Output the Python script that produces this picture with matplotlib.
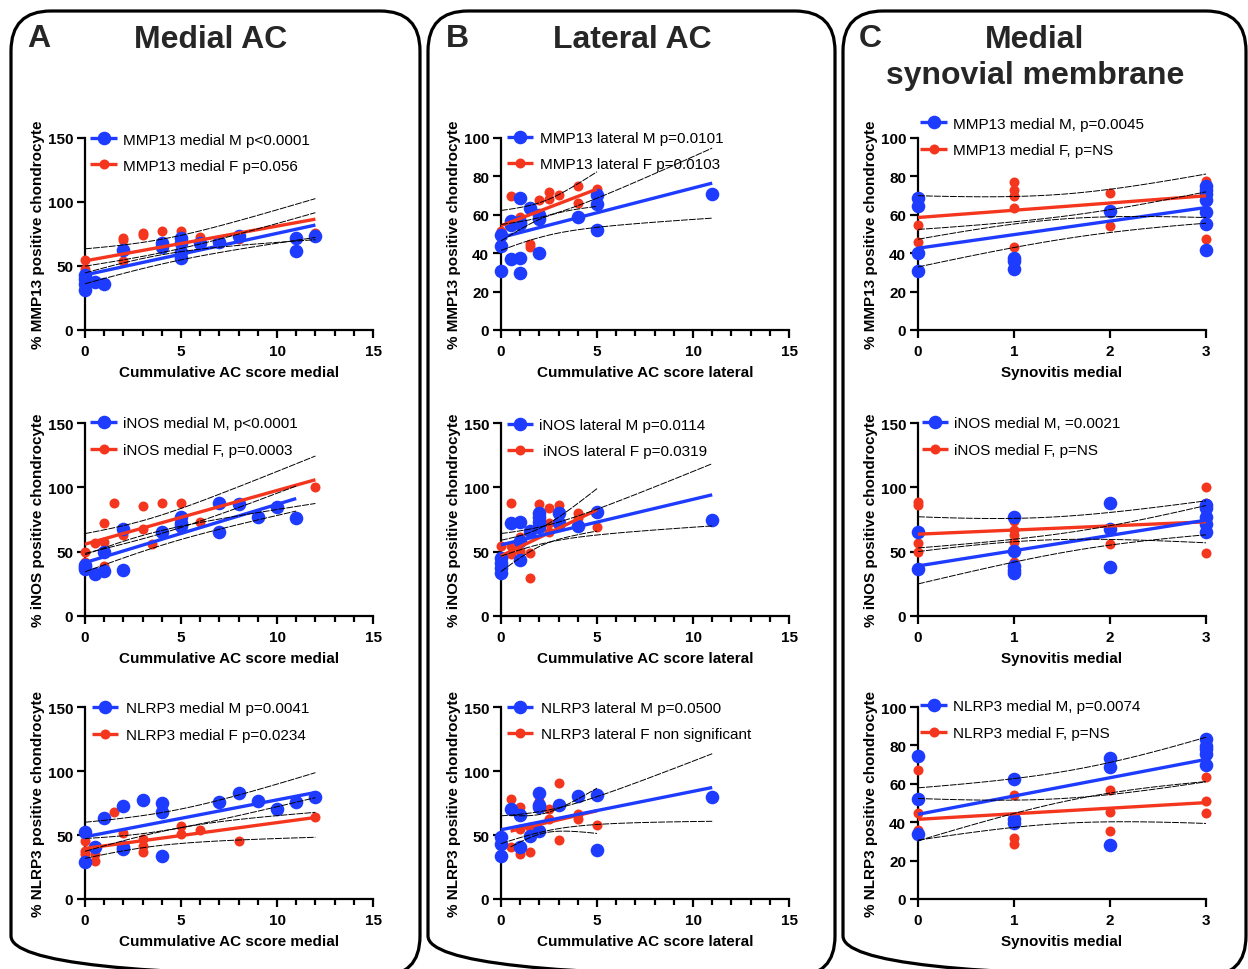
import numpy as np
import matplotlib
matplotlib.use("Agg")
import matplotlib.pyplot as plt
from matplotlib.patches import FancyBboxPatch

plt.rcParams['font.family'] = ['Liberation Sans', 'DejaVu Sans']

# ---------------- DATA ----------------
# A1: MMP13, cumulative AC score medial
a1_m_x = [0, 0, 0, 0, 0.5, 1, 2, 4, 4, 5, 5, 5, 5, 6, 7, 8, 11, 11, 12]
a1_m_y = [43, 40, 36, 31, 37.6, 35.7, 62.3, 68, 65, 72, 68, 61, 56, 68.3, 69, 73.6, 71.5, 61.8, 73.6]
a1_f_x = [0, 0, 2, 2, 2, 3, 3, 4, 5, 6, 8, 12]
a1_f_y = [55, 48, 72, 70, 54, 76, 74, 77, 77.5, 73, 71, 76]
a1_m_fit = [43, 82]
a1_f_fit = [54, 86.6]
a1_m_ci = [7, 9.5]
a1_f_ci = [10, 15]

# A2: iNOS, cumulative AC score medial
a2_m_x = [0, 0, 0, 0.5, 1, 1, 2, 2, 4, 5, 5, 5, 7, 7, 8, 9, 10, 11]
a2_m_y = [40, 38, 36.5, 33, 50, 35, 68, 35.8, 65, 77, 72, 70, 88.2, 65, 87, 76.6, 85.1, 75.8]
a2_f_x = [0, 0, 0.5, 1, 1, 1, 1.5, 2, 3, 3, 3.5, 4, 5, 5, 6, 12]
a2_f_y = [49.8, 42, 57, 71.9, 57.6, 38.9, 88.2, 62.8, 85.6, 67.5, 55.8, 88.2, 87.7, 68, 73.4, 99.9]
a2_m_fit = [41.5, 91.3]
a2_f_fit = [55.8, 105.9]
a2_m_ci = [7, 10]
a2_f_ci = [8, 19]

# A3: NLRP3, cumulative AC score medial
a3_m_x = [0, 0, 0.5, 1, 2, 2, 2, 3, 4, 4, 4, 7, 8, 9, 10, 11, 12]
a3_m_y = [52.5, 28.6, 40.3, 62.9, 72.8, 41, 39, 77.5, 75.1, 68.1, 33.8, 75.4, 83.2, 76.7, 70.2, 75.4, 79.3]
a3_f_x = [0, 0, 0, 0.5, 0.5, 1.5, 2, 3, 3, 3, 5, 5, 6, 8, 12]
a3_f_y = [45.5, 37.7, 35, 35.1, 29.9, 67.6, 51.5, 46.8, 41.6, 36.4, 57.2, 50.7, 53.8, 45.5, 63.7]
a3_m_fit = [48.6, 83.2]
a3_f_fit = [39.5, 63.7]
a3_m_ci = [11, 16]
a3_f_ci = [7.5, 16]

# B1: MMP13, cumulative AC score lateral
b1_m_x = [0, 0, 0, 0.5, 0.5, 0.5, 1, 1, 1, 1, 1, 1.5, 2, 2, 2, 4, 5, 5, 5, 11]
b1_m_y = [49.4, 43.8, 30.8, 56.9, 54.6, 36.9, 68.7, 56, 55, 37.4, 29.9, 63.6, 59.8, 57.7, 40, 59.1, 70.3, 65.6, 52, 70.8]
b1_f_x = [0, 0.5, 1, 1.5, 1.5, 2, 2.5, 2.5, 3, 4, 4, 5]
b1_f_y = [51.6, 69.6, 58.6, 45, 43, 67.8, 72, 68.2, 70.3, 74.8, 66.4, 73.4]
b1_m_fit = [48.2, 76.5]
b1_f_fit = [54.3, 73.4]
b1_m_ci = [7, 17.6]
b1_f_ci = [7, 10]

# B2: iNOS, cumulative AC score lateral
b2_m_x = [0, 0, 0, 0, 0.5, 1, 1, 1, 1.5, 2, 2, 2, 2, 3, 3, 4, 5, 11]
b2_m_y = [45.4, 41, 37.6, 33.7, 71.9, 73.2, 58.4, 43.3, 66.2, 80.4, 76.6, 72.7, 68.8, 79.9, 72.1, 70.1, 81, 74.7]
b2_f_x = [0, 0.5, 0.5, 0.5, 1, 1, 1.5, 1.5, 2, 2.5, 2.5, 2.5, 3, 4, 4, 5]
b2_f_y = [54.5, 87.7, 54.5, 48, 61.5, 50.6, 49.3, 29.8, 86.9, 84.3, 72.1, 64.9, 86.2, 80.4, 75.8, 68.8]
b2_m_fit = [55.3, 94.2]
b2_f_fit = [46.7, 82.5]
b2_m_ci = [8.5, 25]
b2_f_ci = [10, 19]

# B3: NLRP3, cumulative AC score lateral
b3_m_x = [0, 0, 0, 0.5, 1, 1, 1.5, 2, 2, 2, 2, 3, 4, 5, 5, 11]
b3_m_y = [48.6, 42.9, 33.8, 70.2, 65.8, 40.3, 49.4, 83.2, 73.6, 71.5, 53.3, 73.6, 80.1, 81.4, 38.5, 79.8]
b3_f_x = [0.5, 0.5, 1, 1, 1, 1.5, 1.5, 2, 2.5, 2.5, 3, 3, 4, 4, 5]
b3_f_y = [78, 40.3, 72, 54.6, 35.1, 55.9, 36.4, 76.2, 70.2, 62.4, 91, 46, 66.3, 62.4, 57.7]
b3_m_fit = [54.1, 87.1]
b3_f_fit = [53, 68.9]
b3_m_ci = [10.5, 27.3]
b3_f_ci = [10, 20.5]

# C1: MMP13, synovitis medial
c1_m_x = [0, 0, 0, 0, 1, 1, 1, 2, 3, 3, 3, 3, 3, 3, 3]
c1_m_y = [68.5, 64.7, 40, 30.8, 37.7, 36, 32, 62.1, 74.8, 73, 70.8, 67.8, 61.6, 55.1, 41.6]
c1_f_x = [0, 0, 1, 1, 1, 1, 1, 2, 2, 3, 3, 3]
c1_f_y = [54.6, 45.9, 76.9, 73, 69.9, 63.3, 43.3, 71.6, 54.3, 77.7, 76.3, 47.6]
c1_m_fit = [42.6, 63.8]
c1_f_fit = [58.6, 69.9]
c1_m_ci = [11, 7]
c1_f_ci = [12.2, 10.4]

# C2: iNOS, synovitis medial
c2_m_x = [0, 0, 1, 1, 1, 1, 1, 2, 2, 2, 3, 3, 3, 3, 3]
c2_m_y = [64.9, 36.3, 77.3, 50.6, 38.9, 35.8, 33.2, 88.2, 68, 38.4, 86.2, 84.3, 77.1, 71.4, 64.9]
c2_f_x = [0, 0, 0, 0, 1, 1, 1, 1, 1, 2, 2, 3, 3, 3]
c2_f_y = [88.7, 86.2, 56.6, 49.8, 74, 66.7, 62.8, 57.6, 42.3, 55.8, 37.6, 99.9, 88.2, 49.3]
c2_m_fit = [38.9, 74.5]
c2_f_fit = [63.6, 73.2]
c2_m_ci = [15.5, 10]
c2_f_ci = [13.8, 16]

# C3: NLRP3, synovitis medial
c3_m_x = [0, 0, 0, 1, 1, 1, 2, 2, 2, 3, 3, 3, 3, 3]
c3_m_y = [74.7, 51.9, 33.7, 62.3, 41.5, 39.8, 73.2, 68.7, 28.2, 83.4, 79.6, 77.9, 75.6, 69.7]
c3_f_x = [0, 0, 0, 1, 1, 1, 2, 2, 2, 3, 3, 3]
c3_f_y = [67, 45, 35.8, 54, 32, 28.9, 56.6, 45.3, 35.5, 63.5, 51, 45]
c3_m_fit = [44.1, 72.7]
c3_f_fit = [41.5, 50.2]
c3_m_ci = [14.3, 11.1]
c3_f_ci = [10.8, 10.9]

# legend labels
a1_labels = ["MMP13 medial M p<0.0001", "MMP13 medial F p=0.056"]
a2_labels = ["iNOS medial M, p<0.0001", "iNOS medial F, p=0.0003"]
a3_labels = ["NLRP3 medial M p=0.0041", "NLRP3 medial F p=0.0234"]
b1_labels = ["MMP13 lateral M p=0.0101", "MMP13 lateral F p=0.0103"]
b2_labels = ["iNOS lateral M p=0.0114", " iNOS lateral F p=0.0319"]
b3_labels = ["NLRP3 lateral M p=0.0500", "NLRP3 lateral F non significant"]
c1_labels = ["MMP13 medial M, p=0.0045", "MMP13 medial F, p=NS"]
c2_labels = ["iNOS medial M, =0.0021", "iNOS medial F, p=NS"]
c3_labels = ["NLRP3 medial M, p=0.0074", "NLRP3 medial F, p=NS"]

ylabel_mmp = "% MMP13 positive chondrocyte"
ylabel_inos = "% iNOS positive chondrocyte"
ylabel_nlrp = "% NLRP3 positive chondrocyte"
xlabel_med = "Cummulative AC score medial"
xlabel_lat = "Cummulative AC score lateral"
xlabel_syn = "Synovitis medial"

# ---------------- STYLE ----------------
BLUE = '#1E3CFF'
RED = '#F5361E'
TXT = '#262626'
MS_M = 9.8
MS_F = 7.2
W, H = 1248, 970

fig = plt.figure(figsize=(W / 100, H / 100), dpi=100)
bg = fig.add_axes([0, 0, 1, 1], zorder=-5)
bg.set_xlim(0, W)
bg.set_ylim(H, 0)
bg.axis('off')

# panel boxes
for (x0, x1) in [(11, 420), (428, 835), (843, 1246)]:
    bg.add_patch(FancyBboxPatch((x0, 12), x1 - x0, 965, boxstyle="round,pad=0,rounding_size=40",
                                fill=False, lw=2.3, ec='black'))

# panel letters and titles
for x, s in [(27, 'A'), (446, 'B'), (859, 'C')]:
    bg.text(x, 47, s, fontsize=23, fontweight='bold', color=TXT, ha='left', va='baseline')
bg.text(211, 48, "Medial AC", fontsize=23, fontweight='bold', color=TXT, ha='center', va='baseline')
bg.text(632, 48, "Lateral AC", fontsize=23, fontweight='bold', color=TXT, ha='center', va='baseline')
bg.text(1035, 48, "Medial", fontsize=23, fontweight='bold', color=TXT, ha='center', va='baseline')
bg.text(1035, 84, "synovial membrane", fontsize=23, fontweight='bold', color=TXT, ha='center', va='baseline')


def band_half(xs, xd, xmin, xmax, ci):
    xd = np.asarray(xd, float)
    xc = xd.mean()
    v = xd.var()
    k2 = 0.5 * (ci[0] ** 2 / (v + (xmin - xc) ** 2) + ci[1] ** 2 / (v + (xmax - xc) ** 2))
    return np.sqrt(k2 * (v + (xs - xc) ** 2))


def panel(rect, xlim, xmajor, xminor, ylim, ymajor, xlabel, ylabel,
          mx, my, fx, fy, mfit, ffit, mci, fci, labels, leg, xlab_off=35):
    l, t, r, b = rect
    ax = fig.add_axes([l / W, 1 - b / H, (r - l) / W, (b - t) / H])
    ax.patch.set_alpha(0)
    ax.set_xlim(*xlim)
    ax.set_ylim(*ylim)
    for s in ['top', 'right']:
        ax.spines[s].set_visible(False)
    for s in ['left', 'bottom']:
        ax.spines[s].set_linewidth(1.6)
    ax.set_xticks(xmajor)
    if xminor is not None:
        ax.set_xticks(xminor, minor=True)
    ax.set_yticks(ymajor)
    ax.tick_params(which='major', length=6, width=1.6, labelsize=11, color='black')
    ax.tick_params(axis='x', which='major', pad=4)
    ax.tick_params(axis='y', which='major', pad=2.5)
    ax.tick_params(which='minor', length=4, width=1.6)
    for lbl in ax.get_xticklabels() + ax.get_yticklabels():
        lbl.set_fontweight('bold')
    ax.set_xlabel(xlabel, fontsize=11, fontweight='bold')
    ax.set_ylabel(ylabel, fontsize=11, fontweight='bold')
    ax.xaxis.set_label_coords(0.5, -xlab_off / (b - t))
    ax.yaxis.set_label_coords(-40 / (r - l), 0.5)

    # points
    ax.plot(fx, fy, 'o', ms=MS_F, color=RED, mew=0, clip_on=False, zorder=3)
    ax.plot(mx, my, 'o', ms=MS_M, color=BLUE, mew=0, clip_on=False, zorder=4)

    # fits and bands
    for xd, fit, ci, col in [(fx, ffit, fci, RED), (mx, mfit, mci, BLUE)]:
        xmin, xmax = min(xd), max(xd)
        xs = np.linspace(xmin, xmax, 80)
        ys = fit[0] + (fit[1] - fit[0]) * (xs - xmin) / (xmax - xmin)
        hw = band_half(xs, xd, xmin, xmax, ci)
        ax.plot(xs, ys, color=col, lw=2.4, solid_capstyle='butt', zorder=5, clip_on=False)
        for sgn in (1, -1):
            ax.plot(xs, ys + sgn * hw, color='black', lw=0.7, dashes=(7, 1.2), zorder=7, clip_on=False)

    # legend (drawn in figure pixel space)
    hx0, hx1, tx, y1, y2 = leg
    for yy, col, ms, lab in [(y1, BLUE, MS_M, labels[0]), (y2, RED, MS_F, labels[1])]:
        bg.plot([hx0, hx1], [yy, yy], color=col, lw=2.4, solid_capstyle='butt', zorder=2)
        bg.plot([(hx0 + hx1) / 2], [yy], 'o', color=col, ms=ms, mew=0, zorder=2)
        bg.text(tx, yy, lab, fontsize=11, color='black', ha='left', va='center_baseline', zorder=2)
    return ax


xmaj = [0, 5, 10, 15]
xmin_ = np.arange(0, 16, 1)
y150 = [0, 50, 100, 150]
y100 = [0, 20, 40, 60, 80, 100]

panel((85, 139, 373, 331), (0, 15), xmaj, xmin_, (0, 150), y150, xlabel_med, ylabel_mmp,
      a1_m_x, a1_m_y, a1_f_x, a1_f_y, a1_m_fit, a1_f_fit, a1_m_ci, a1_f_ci, a1_labels,
      (90, 117, 123, 139, 165))
panel((85, 424, 373, 617), (0, 15), xmaj, xmin_, (0, 150), y150, xlabel_med, ylabel_inos,
      a2_m_x, a2_m_y, a2_f_x, a2_f_y, a2_m_fit, a2_f_fit, a2_m_ci, a2_f_ci, a2_labels,
      (90, 117, 123, 423, 450))
panel((85, 708, 373, 900), (0, 15), xmaj, xmin_, (0, 150), y150, xlabel_med, ylabel_nlrp,
      a3_m_x, a3_m_y, a3_f_x, a3_f_y, a3_m_fit, a3_f_fit, a3_m_ci, a3_f_ci, a3_labels,
      (92, 118, 126, 708, 735))

panel((501, 139, 789, 331), (0, 15), xmaj, xmin_, (0, 100), y100, xlabel_lat, ylabel_mmp,
      b1_m_x, b1_m_y, b1_f_x, b1_f_y, b1_m_fit, b1_f_fit, b1_m_ci, b1_f_ci, b1_labels,
      (507, 533, 540, 138, 164))
panel((501, 424, 789, 617), (0, 15), xmaj, xmin_, (0, 150), y150, xlabel_lat, ylabel_inos,
      b2_m_x, b2_m_y, b2_f_x, b2_f_y, b2_m_fit, b2_f_fit, b2_m_ci, b2_f_ci, b2_labels,
      (507, 533, 539, 425, 451))
panel((501, 708, 789, 900), (0, 15), xmaj, xmin_, (0, 150), y150, xlabel_lat, ylabel_nlrp,
      b3_m_x, b3_m_y, b3_f_x, b3_f_y, b3_m_fit, b3_f_fit, b3_m_ci, b3_f_ci, b3_labels,
      (507, 533, 541, 708, 734))

panel((918, 139, 1206, 331), (0, 3), [0, 1, 2, 3], None, (0, 100), y100, xlabel_syn, ylabel_mmp,
      c1_m_x, c1_m_y, c1_f_x, c1_f_y, c1_m_fit, c1_f_fit, c1_m_ci, c1_f_ci, c1_labels,
      (920, 947, 953, 123, 150))
panel((918, 424, 1206, 617), (0, 3), [0, 1, 2, 3], None, (0, 150), y150, xlabel_syn, ylabel_inos,
      c2_m_x, c2_m_y, c2_f_x, c2_f_y, c2_m_fit, c2_f_fit, c2_m_ci, c2_f_ci, c2_labels,
      (922, 948, 954, 423, 450))
panel((918, 708, 1206, 900), (0, 3), [0, 1, 2, 3], None, (0, 100), y100, xlabel_syn, ylabel_nlrp,
      c3_m_x, c3_m_y, c3_f_x, c3_f_y, c3_m_fit, c3_f_fit, c3_m_ci, c3_f_ci, c3_labels,
      (920, 947, 953, 706, 733))

fig.savefig("out.png", dpi=100)
